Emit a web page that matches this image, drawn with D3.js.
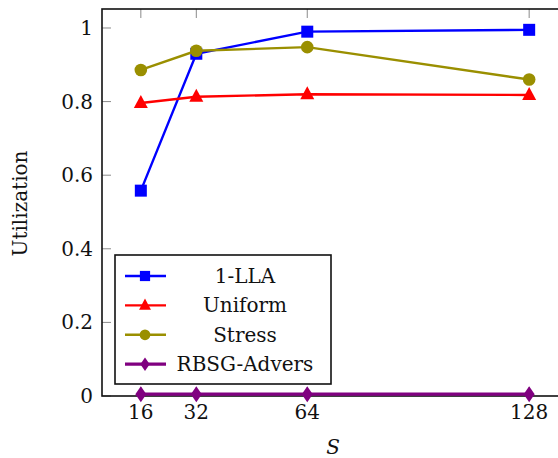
<!DOCTYPE html>
<html>
<head>
<meta charset="utf-8">
<script src="https://cdn.jsdelivr.net/npm/d3@7"></script>
<style>
  body { margin: 0; background: #fff; }
</style>
</head>
<body>
<div id="chart"></div>
<script>
// Data
const sizes = [16, 32, 64, 128];
const llaVals = [0.558, 0.930, 0.990, 0.995];
const uniformVals = [0.796, 0.813, 0.820, 0.818];
const stressVals = [0.886, 0.938, 0.948, 0.860];
const advVals = [0.005, 0.005, 0.005, 0.005];
const yTicks = [0, 0.2, 0.4, 0.6, 0.8, 1];

const series = [
    { name: "1-LLA", values: llaVals, color: "#0000ff", marker: "square" },
    { name: "Uniform", values: uniformVals, color: "#ff0000", marker: "triangle" },
    { name: "Stress", values: stressVals, color: "#9a8f00", marker: "circle" },
    { name: "RBSG-Advers", values: advVals, color: "#800080", marker: "diamond" }
];

const W = 558, H = 458;
const plot = { left: 102, right: 568, top: 9, bottom: 396 };
const font = "'DejaVu Serif', serif";
const fs = "20px";

const svg = d3.select("#chart").append("svg")
    .attr("width", W)
    .attr("height", H)
    .attr("font-family", font);

const x = d3.scaleLinear().domain([4.8, 139.2]).range([plot.left, plot.right]);
const y = d3.scaleLinear().domain([0, 1.0516]).range([plot.bottom, plot.top]);

// tick marks inside the frame (all four sides)
const tickLen = 9;
const ticks = svg.append("g").attr("stroke", "#8a8a8a").attr("stroke-width", 1);
sizes.forEach(s => {
    ticks.append("line").attr("x1", x(s)).attr("x2", x(s)).attr("y1", plot.top).attr("y2", plot.top + tickLen);
    ticks.append("line").attr("x1", x(s)).attr("x2", x(s)).attr("y1", plot.bottom).attr("y2", plot.bottom - tickLen);
});
yTicks.forEach(t => {
    ticks.append("line").attr("x1", plot.left).attr("x2", plot.left + tickLen).attr("y1", y(t)).attr("y2", y(t));
    ticks.append("line").attr("x1", plot.right).attr("x2", plot.right - tickLen).attr("y1", y(t)).attr("y2", y(t));
});

// frame
svg.append("rect")
    .attr("x", plot.left).attr("y", plot.top)
    .attr("width", plot.right - plot.left).attr("height", plot.bottom - plot.top)
    .attr("fill", "none").attr("stroke", "#111").attr("stroke-width", 1.6);

// tick labels
svg.append("g").selectAll("text")
    .data(sizes).enter().append("text")
    .attr("x", d => x(d)).attr("y", plot.bottom + 23)
    .attr("text-anchor", "middle").attr("font-family", font).style("font-size", fs)
    .attr("fill", "#111")
    .text(d => d);

svg.append("g").selectAll("text")
    .data(yTicks).enter().append("text")
    .attr("x", plot.left - 9).attr("y", d => y(d) + 7)
    .attr("text-anchor", "end").attr("font-family", font).style("font-size", fs)
    .attr("fill", "#111")
    .text(d => d);

// axis titles
svg.append("text")
    .attr("transform", `translate(27,${(plot.top + plot.bottom) / 2 + 1}) rotate(-90)`)
    .attr("text-anchor", "middle").attr("font-family", font).style("font-size", fs)
    .attr("fill", "#111")
    .text("Utilization");

svg.append("text")
    .attr("x", 333).attr("y", 454)
    .attr("text-anchor", "middle").attr("font-family", font)
    .style("font-size", fs).style("font-style", "italic")
    .attr("fill", "#111")
    .text("S");

// markers
function drawMarker(g, type, cx, cy, color, k) {
    k = k || 1;
    if (type === "square") {
        g.append("rect").attr("x", cx - 6 * k).attr("y", cy - 6 * k)
            .attr("width", 12 * k).attr("height", 12 * k).attr("fill", color);
    } else if (type === "circle") {
        g.append("circle").attr("cx", cx).attr("cy", cy).attr("r", 6.3 * k).attr("fill", color);
    } else if (type === "triangle") {
        g.append("path").attr("d", `M${cx},${cy - 8 * k}L${cx + 7 * k},${cy + 5 * k}L${cx - 7 * k},${cy + 5 * k}Z`)
            .attr("fill", color);
    } else if (type === "diamond") {
        g.append("path").attr("d", `M${cx},${cy - 8 * k}L${cx + 5.5 * k},${cy}L${cx},${cy + 8 * k}L${cx - 5.5 * k},${cy}Z`)
            .attr("fill", color);
    }
}

const line = d3.line().x(d => x(d[0])).y(d => y(d[1]));

series.forEach(s => {
    const pts = sizes.map((v, i) => [v, s.values[i]]);
    const g = svg.append("g");
    g.append("path")
        .attr("d", line(pts))
        .attr("fill", "none")
        .attr("stroke", s.color)
        .attr("stroke-width", s.marker === "diamond" ? 3.2 : 2.4);
    pts.forEach(p => drawMarker(g, s.marker, x(p[0]), y(p[1]), s.color));
});

// legend
const lg = svg.append("g");
lg.append("rect")
    .attr("x", 115).attr("y", 255).attr("width", 216).attr("height", 129)
    .attr("fill", "#fff").attr("stroke", "#111").attr("stroke-width", 1.6);

series.forEach((s, i) => {
    const cy = 276 + i * 29.4;
    lg.append("line")
        .attr("x1", 125).attr("x2", 166).attr("y1", cy).attr("y2", cy)
        .attr("stroke", s.color).attr("stroke-width", s.marker === "diamond" ? 3.2 : 2.4);
    drawMarker(lg, s.marker, 145, cy, s.color, 0.85);
    lg.append("text")
        .attr("x", 245).attr("y", cy + 7)
        .attr("text-anchor", "middle").attr("font-family", font).style("font-size", fs)
        .attr("fill", "#111")
        .text(s.name);
});
</script>
</body>
</html>
